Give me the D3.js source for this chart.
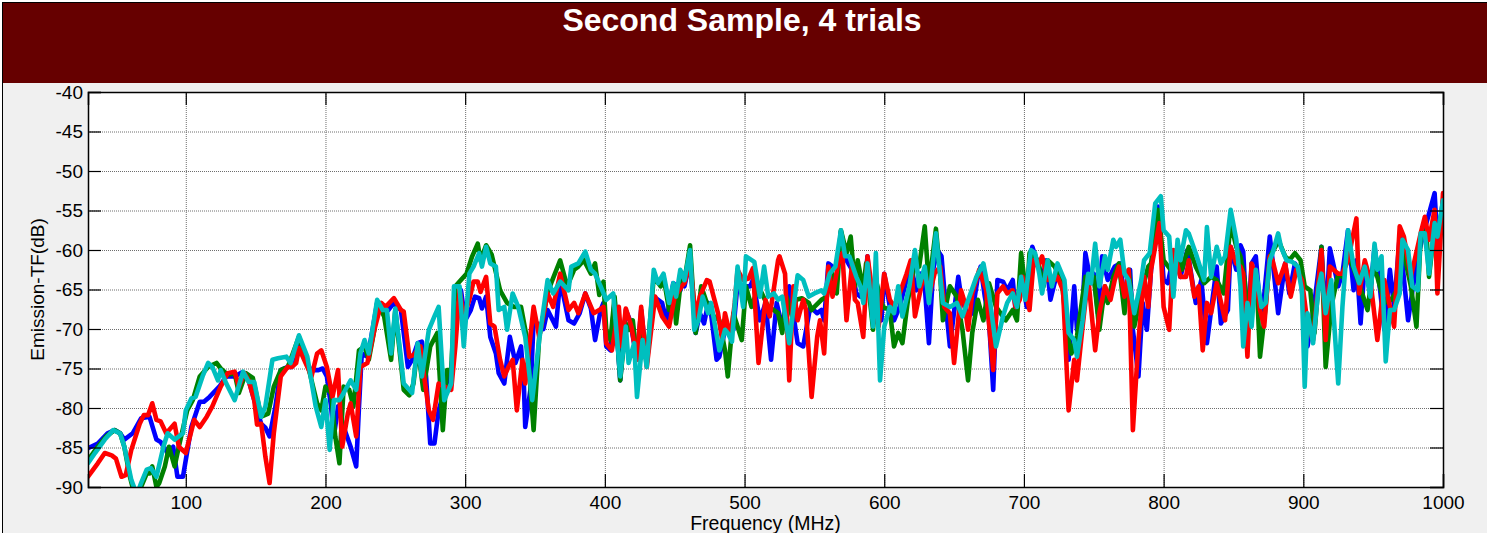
<!DOCTYPE html>
<html lang="en">
<head>
<meta charset="UTF-8">
<title>Second Sample, 4 trials</title>
<script src="https://cdn.jsdelivr.net/npm/d3@7"></script>
<style>
    body { margin: 0; background: #ffffff; }
    text { font-family: Arial, "Liberation Sans", sans-serif; }
</style>
</head>
<body>
<div id="chart"></div>
<script>
// ---- data: [frequency MHz, emission dB] ----
var trial1 = [[30,-85.1],[37,-84.5],[44,-83.2],[49,-82.8],[53,-83.2],[56,-84],[62,-83.2],[68,-81.3],[74,-81.1],[79,-84],[82,-84.3],[87,-85.7],[91,-84.9],[94,-88.7],[98,-88.7],[104,-82.4],[110,-79.2],[113,-79.2],[117,-78.6],[124,-77.3],[129,-76],[135,-76],[140,-75.5],[145,-76.5],[149,-79],[154,-82],[157,-82.5],[160,-83.6],[164,-80],[168,-75.2],[173,-74.8],[176,-74.8],[179,-73.9],[181,-72.2],[187,-74.6],[190,-75.2],[195,-75.2],
  [198,-75],[201,-76],[204,-79.8],[206,-83.6],[209,-79.8],[213,-82.4],[218,-84.9],[222,-87.4],[224,-79.8],[226,-73.1],[230,-73.5],[232,-71.8],[237,-66.7],[242,-68],[245,-67.6],[249,-66.7],[254,-67.6],[259,-74.8],[262,-73.9],[266,-71.8],[269,-71.6],[272,-76],[275,-84.5],[278,-84.5],[281,-80.3],[286,-77.3],[290,-75.2],[294,-68.9],[297,-65.1],[300,-68.9],[304,-67.6],[307,-65.9],[310,-66.1],[312,-67.4],[315,-65.9],[318,-71],[322,-73.1],[324,-75.6],[328,-76.9],[330,-73.9],[332,-71],[336,-74.3],[340,-72.2],[342,-76.9],[343,-82.4],[347,-77.3],[349,-68.9],[356,-70],[359,-67.6],
  [365,-69.7],[368,-63.8],[374,-68.9],[378,-69.3],[382,-68],[386,-65.5],[390,-67.4],[393,-71.4],[397,-67.6],[399,-66.7],[401,-72.2],[404,-72.7],[407,-66.3],[411,-76.5],[415,-67.6],[418,-68.9],[423,-73.9],[426,-67.6],[430,-74.3],[435,-65.9],[441,-66.7],[444,-68.9],[449,-64.2],[454,-65.1],[456,-63],[457,-64.6],[461,-61.3],[465,-70.5],[468,-68],[471,-69.3],[474,-66.7],[476,-68],[480,-73.9],[482,-73.5],[486,-70.1],[490,-70.5],[492,-70.1],[495,-64.2],[499,-64.6],[504,-64.6],[506,-63.8],[511,-68.9],[515,-66.7],[519,-73.9],[523,-66.7],
  [527,-69.7],[532,-64.6],[538,-71.8],[542,-72.2],[547,-67.2],[552,-68],[555,-67.6],[557,-68.9],[560,-61.7],[563,-62.1],[566,-62.5],[569,-57.7],[573,-61.3],[577,-62.5],[580,-65.5],[583,-65.9],[586,-64.6],[588,-60.8],[592,-69.3],[594,-63.8],[598,-68.9],[600,-63],[604,-67.2],[607,-68.9],[611,-67.2],[616,-63.8],[619,-62.1],[623,-65.1],[626,-63],[629,-64.6],[632,-71.8],[635,-62.5],[638,-60],[641,-60.8],[643,-65.1],[647,-72.2],[653,-63.4],[655,-65.9],[660,-68.4],[663,-68],[667,-63.4],[669,-62.1],[672,-65.9],[675,-68.9],[678,-77.7],[681,-63.8],[685,-64],[688,-65.1],
  [692,-63.8],[694,-67.6],[697,-65.1],[699,-63.8],[702,-67.2],[704,-62.5],[706,-59.6],[710,-61.7],[713,-63.8],[716,-61.3],[719,-66.3],[723,-63.4],[727,-63.8],[729,-65.5],[732,-73.9],[736,-64.6],[738,-70.1],[741,-70.5],[744,-60.4],[748,-64.2],[750,-63],[753,-68],[756,-60.8],[760,-63.8],[765,-62.1],[769,-61.7],[772,-66.3],[776,-62.5],[778,-70.1],[782,-76],[785,-66.7],[788,-70.1],[791,-62.5],[796,-54.5],[800,-63.8],[803,-64.2],[806,-61.7],[810,-61.3],[812,-63.4],[817,-60],[823,-66.7],[827,-63.8],[831,-71.8],[838,-62.1],[841,-69.3],[846,-67.6],[848,-59.6],[852,-62.5],
  [855,-59.4],[857,-60.2],[860,-70.5],[863,-61.7],[866,-60.8],[869,-67.2],[871,-67.6],[876,-58.3],[878,-61.3],[882,-68],[887,-61.7],[890,-65.5],[894,-61.7],[898,-63.4],[903,-72.2],[907,-68],[913,-59.6],[916,-69.3],[919,-59.8],[925,-64.6],[928,-63],[932,-57.5],[936,-65.1],[938,-61.3],[941,-69.3],[944,-61.7],[948,-65.5],[951,-59.6],[955,-65.1],[958,-70.1],[962,-62.5],[965,-67.2],[969,-58.3],[975,-68.9],[981,-61.7],[986,-57.9],[990,-55.4],[994,-52.8],[996,-59.2],[1000,-53.7]];

var trial2 = [[30,-86.6],[37,-84.9],[43,-83.6],[49,-82.8],[53,-83.2],[56,-84.9],[60,-88.7],[63,-90.8],[68,-90],[72,-88.3],[74,-88.3],[76,-87.4],[79,-90],[81,-89.5],[85,-87.4],[88,-84.9],[92,-87.4],[95,-84.9],[101,-80.3],[105,-79],[110,-76],[116,-74.8],[122,-74.3],[125,-75],[130,-75.8],[135,-75.6],[138,-78.1],[143,-75.6],[148,-76.2],[154,-81.1],[159,-80.7],[163,-77.3],[168,-75.2],[173,-74.8],[175,-73.9],[181,-71],[187,-74.3],[194,-79.4],
  [197,-80.3],[200,-77.3],[204,-78.1],[207,-83.6],[210,-87],[213,-77.3],[217,-77.7],[220,-79.8],[224,-72.7],[228,-72.2],[231,-73.9],[235,-70.1],[237,-66.7],[242,-68.4],[247,-73.9],[250,-67.6],[256,-77.7],[260,-78.4],[263,-76.9],[266,-72.2],[270,-77.7],[275,-72.2],[280,-70.5],[284,-82.8],[287,-75.2],[290,-75.2],[293,-64.6],[296,-64],[301,-63],[305,-60.8],[309,-59.2],[311,-61.3],[315,-59.4],[319,-60.6],[325,-65.1],[330,-66.7],[335,-67.2],[340,-67.2],[344,-71],[349,-82.8],[353,-71],[359,-65.5],
  [362,-64],[368,-61.3],[373,-64.6],[378,-62.5],[381,-62.1],[385,-61.3],[390,-63],[393,-61.7],[396,-65.7],[399,-64],[401,-70.1],[404,-71.4],[407,-65.9],[411,-76.5],[415,-69.3],[417,-70.1],[420,-68.9],[423,-73.9],[426,-69.3],[430,-73.9],[435,-63.4],[440,-64.6],[442,-63.4],[446,-67.6],[449,-64.6],[451,-69.3],[455,-63],[457,-63.8],[461,-59.4],[465,-70.5],[469,-64.6],[473,-66.7],[478,-68.4],[482,-68.9],[486,-72.7],[488,-76],[492,-68],[498,-71.4],[501,-64.6],[505,-67.2],[510,-64.6],[517,-67.2],[521,-67.6],
  [524,-68],[527,-70.5],[530,-65.9],[534,-68.4],[537,-66.3],[541,-66.1],[546,-66.7],[548,-67.6],[550,-67.2],[555,-66.3],[559,-65.9],[562,-62.5],[566,-65.5],[569,-57.5],[573,-60.4],[576,-58.3],[579,-64.6],[581,-61.3],[585,-65.1],[587,-61.7],[592,-70.1],[594,-63.8],[599,-67.2],[604,-67.6],[607,-72.2],[610,-70.5],[613,-71.8],[617,-66.3],[621,-62.5],[625,-62.1],[629,-57],[632,-64.6],[637,-57.3],[640,-63],[642,-68.9],[647,-64.6],[652,-65.9],[656,-70.1],[660,-76.5],[663,-70.5],[667,-66.3],[671,-68.9],[675,-64.2],[680,-67.2],[687,-68.9],
  [692,-67.6],[695,-68.9],[698,-60.4],[702,-66.3],[704,-60.4],[710,-61.3],[714,-64.6],[717,-61.3],[722,-62.1],[727,-63.8],[731,-70.5],[734,-73.1],[738,-70.9],[744,-63.4],[747,-63.8],[750,-63.4],[754,-70.1],[758,-64.6],[760,-66.7],[764,-63.4],[768,-61.7],[772,-68],[775,-62.5],[779,-69.7],[784,-65.5],[789,-62.1],[791,-61.7],[796,-54.9],[800,-61.3],[805,-62.5],[810,-60.4],[813,-62.5],[818,-59.6],[823,-62.1],[829,-64.2],[834,-63.4],[838,-63.8],[843,-65.5],[848,-56.6],[852,-59.6],
  [855,-60.8],[858,-63.8],[861,-69.7],[864,-63.8],[867,-65.5],[869,-73.5],[873,-67.2],[876,-60.8],[880,-59.6],[882,-58.7],[887,-60.8],[890,-61.3],[894,-60.4],[898,-61.3],[901,-64.6],[905,-65.1],[908,-70.5],[913,-59.6],[916,-74.8],[920,-67.2],[925,-63],[928,-63.4],[932,-60.4],[939,-63.8],[946,-67.6],[950,-62.1],[953,-63.4],[958,-66.7],[963,-66.3],[967,-65.1],[971,-59.6],[977,-64.6],[981,-69.7],[984,-58.3],[988,-57.5],[990,-63.4],[994,-57],[996,-58.3],[1000,-54.5]];

var trial3 = [[30,-88.7],[37,-87],[42,-85.7],[47,-86],[50,-86.4],[54,-88.7],[57,-88.5],[61,-85.3],[67,-82],[70,-80.9],[73,-80.9],[76,-79.4],[79,-81.5],[82,-81.7],[86,-83.2],[92,-82],[95,-84.9],[100,-85.7],[106,-81.5],[110,-82.4],[115,-81.1],[119,-79.8],[125,-77.3],[130,-75.6],[135,-75.4],[138,-77.3],[142,-75.6],[145,-76.5],[149,-79],[151,-82.1],[154,-82],[157,-86.2],[160,-89.5],[163,-83.2],[168,-76],[173,-74.8],[176,-74.8],[179,-74.3],[181,-72.4],[187,-74.8],[190,-76],[194,-73.1],
  [197,-72.7],[201,-74.8],[205,-78.6],[209,-75.2],[212,-84.9],[216,-80.7],[218,-79.4],[222,-83.6],[225,-74.8],[230,-74.3],[235,-70.1],[240,-66.7],[243,-67.2],[249,-66.1],[254,-67.6],[256,-67.8],[260,-73.5],[263,-73.3],[268,-72.2],[270,-75.2],[274,-80.3],[277,-81.5],[281,-76.9],[290,-77.7],[293,-72.2],[296,-65.1],[299,-68.4],[303,-66.3],[306,-64],[309,-64],[311,-65.3],[315,-63.4],[318,-69.3],[321,-69.7],[325,-73.9],[328,-76],[331,-74.8],[334,-73.9],[337,-80.3],[341,-73.9],[343,-76.9],[349,-67.2],[353,-71],[359,-65.5],
  [363,-67.2],[368,-63],[374,-67.6],[378,-66.7],[381,-68],[386,-65.5],[392,-68],[396,-67.6],[399,-67.2],[401,-71.8],[405,-72.7],[410,-67.2],[412,-72.2],[415,-67.4],[419,-69.7],[423,-73.9],[426,-67.2],[430,-74.8],[436,-65.9],[441,-68.4],[446,-69.7],[450,-65.9],[455,-64.6],[457,-64.2],[461,-61.7],[465,-68.4],[468,-65.9],[473,-63.8],[475,-64],[481,-68],[484,-71.4],[486,-68],[490,-71],[493,-66.7],[495,-62.5],[499,-63.8],[503,-63.6],[506,-62.3],[510,-74.3],[515,-66.3],[518,-68.4],[524,-61.3],
  [525,-60.8],[529,-63],[532,-76.5],[535,-64.6],[538,-68.9],[542,-66.3],[544,-67.6],[548,-78.6],[552,-71],[554,-68.9],[557,-73.1],[560,-62.1],[563,-65.9],[567,-61.7],[570,-60.4],[573,-68.9],[577,-61.7],[579,-66.3],[581,-66.7],[585,-71],[588,-60.8],[592,-65.9],[596,-69.7],[600,-63],[604,-66.3],[607,-67.2],[611,-65.5],[616,-63],[619,-61.3],[622,-68.4],[625,-65.9],[629,-62.5],[632,-65.9],[636,-63],[640,-62.1],[643,-67.2],[647,-68],[650,-74.3],[655,-65.1],[657,-66.3],[660,-70.1],[663,-65.5],[668,-62.5],[673,-65.1],[675,-69.3],[678,-75.2],[681,-65.5],[685,-64.6],[688,-65.5],
  [692,-65.1],[694,-67.2],[697,-66.3],[699,-63.4],[704,-67.6],[707,-61.3],[710,-62.1],[713,-60.8],[717,-63.8],[722,-63.8],[724,-63.4],[728,-65.1],[732,-80.3],[736,-73.9],[738,-76.5],[742,-69.7],[746,-63.4],[748,-67.2],[751,-72.7],[754,-68],[758,-64.6],[762,-66.3],[765,-63.8],[768,-62.1],[772,-65.9],[775,-62.5],[778,-82.8],[782,-71.4],[786,-63.4],[789,-67.2],[791,-62.5],[797,-56.6],[800,-67.2],[804,-70.1],[807,-60],[812,-63.4],[816,-63.4],[818,-61.3],[822,-65.9],[825,-64.6],[828,-72.7],[831,-66.7],[834,-68],[838,-64.2],[844,-68.9],[848,-59.6],[852,-61.7],
  [855,-62.1],[857,-63],[860,-73.5],[863,-61.7],[866,-63.4],[869,-67.6],[872,-69.7],[876,-60.8],[878,-61.3],[882,-64.2],[887,-61.7],[891,-65.9],[895,-62.5],[899,-63.8],[903,-69.3],[907,-71.4],[913,-60],[916,-71.4],[919,-62.1],[925,-63],[928,-63],[932,-61.3],[938,-56],[940,-65.5],[944,-61.3],[948,-63.8],[953,-71.4],[958,-63.8],[965,-69.7],[969,-57],[972,-58.3],[977,-63.4],[984,-57.9],[987,-55.8],[990,-58.7],[994,-54.9],[996,-65.5],[1000,-52.8]];

var trial4 = [[30,-87],[35,-85.7],[42,-84],[48,-82.8],[53,-83.2],[56,-84.9],[61,-89.1],[65,-91],[68,-89.5],[72,-87.8],[75,-87.6],[79,-88.7],[84,-84.9],[87,-83.2],[92,-84],[98,-83.2],[100,-80.3],[104,-78.8],[107,-78.6],[112,-76],[116,-74.3],[119,-74.8],[123,-76.5],[125,-75.2],[129,-76.9],[135,-79],[141,-75.4],[145,-76.7],[149,-76.7],[154,-81.1],[157,-79.8],[162,-73.9],[166,-73.7],[172,-73.5],[175,-74.3],[181,-70.8],[187,-73.5],[193,-79.8],
  [197,-82.4],[200,-79],[203,-85.3],[206,-79],[210,-79],[213,-78.1],[218,-76.5],[222,-77.7],[225,-73.1],[228,-71.4],[231,-73.1],[237,-66.3],[241,-67.6],[244,-67.6],[247,-73.1],[250,-67.4],[256,-76.9],[260,-77.7],[262,-78.1],[266,-71.8],[269,-76],[274,-70.1],[278,-68.4],[281,-67.2],[285,-79],[290,-76.9],[292,-64.6],[296,-64.6],[299,-72.2],[303,-63],[306,-62.1],[310,-60.4],[312,-62.1],[315,-59.6],[318,-61.7],[322,-62.1],[324,-67.6],[328,-67.2],[330,-70.1],[334,-65.5],[338,-67.2],[343,-71],[348,-79],[353,-71.4],[359,-63.8],
  [363,-65.5],[368,-64],[374,-65.1],[376,-62.1],[381,-61.7],[386,-60.2],[390,-62.5],[393,-63],[397,-64.6],[401,-66.3],[406,-65.5],[411,-76],[415,-69.7],[417,-74.3],[421,-71.8],[423,-78.6],[427,-71.4],[430,-74.8],[435,-62.5],[438,-64.2],[442,-63],[446,-66.7],[449,-64.2],[451,-65.9],[454,-62.5],[457,-63.8],[461,-60],[464,-70.1],[467,-68.9],[470,-65.9],[474,-68],[476,-66.7],[482,-72.7],[486,-70.1],[488,-70.5],[491,-71.6],[495,-62.1],[499,-67.2],[501,-60.8],[507,-61.5],[511,-65.9],[514,-62.1],[517,-65.9],[521,-65.5],
  [524,-66.3],[527,-65.9],[532,-71.8],[536,-65.9],[538,-63.2],[542,-63.8],[546,-65.9],[550,-65.5],[555,-65.1],[557,-65.5],[561,-63],[565,-62.1],[569,-57.5],[572,-60.8],[575,-60.8],[580,-63.4],[583,-64.6],[585,-66.7],[588,-61.7],[592,-69.7],[594,-60.4],[597,-76.5],[600,-69.7],[604,-67.2],[607,-68],[610,-64.6],[613,-68.4],[618,-64.6],[622,-60],[625,-64.6],[629,-62.1],[632,-66.7],[637,-57.9],[642,-66.7],[647,-67.2],[652,-66.7],[656,-68.4],[661,-65.9],[666,-63.4],[671,-61.7],[675,-65.5],[680,-72.2],[685,-68.4],[688,-66.7],
  [692,-65.5],[695,-67.2],[698,-63.4],[701,-66.3],[705,-60],[708,-60.4],[711,-63],[713,-65.5],[717,-61.3],[720,-64.6],[724,-61.7],[729,-63.8],[732,-70.5],[736,-71.4],[738,-73.5],[742,-68.9],[746,-63],[748,-64.2],[751,-59.2],[754,-64.6],[758,-60.8],[760,-62.5],[764,-58.7],[766,-59.6],[769,-58.7],[772,-63],[775,-63.8],[779,-68],[784,-63.8],[786,-61.3],[790,-60.4],[794,-54.1],[798,-53.2],[800,-57.5],[804,-58.3],[807,-65.9],[810,-58.7],[812,-61.3],[816,-57.5],[818,-57.9],[823,-60.4],[829,-63.8],[831,-57.1],[834,-63.4],[838,-59.6],[841,-61.7],[844,-60.8],[848,-54.9],[852,-58.7],
  [855,-64.6],[857,-72.2],[860,-66.7],[863,-69.7],[866,-62.5],[870,-67.2],[873,-66.7],[876,-61.3],[878,-60.4],[882,-57.9],[884,-59.6],[888,-61.3],[892,-61.5],[896,-62.1],[899,-65.1],[901,-77.3],[903,-68],[907,-71.8],[911,-64.6],[913,-63],[916,-68],[920,-63.8],[925,-76.9],[928,-67.2],[932,-57.5],[936,-62.1],[940,-64.2],[944,-62.1],[948,-65.9],[951,-59.2],[953,-62.5],[956,-60.8],[959,-74.1],[962,-67.6],[965,-67.6],[969,-65.5],[971,-58.7],[975,-60],[978,-64.6],[982,-65.1],[984,-57.9],[987,-57.9],[990,-63],[994,-56.6],[996,-58.3],[1000,-53.7]];

// plotted in this order, last one on top
var trials = [trial1, trial2, trial3, trial4];
var trialColors = ["#0000ff", "#008000", "#ff0000", "#00bfbf"];

var xTicks = [100, 200, 300, 400, 500, 600, 700, 800, 900, 1000];
var yTicks = [-90, -85, -80, -75, -70, -65, -60, -55, -50, -45, -40];

// ---- layout ----
var width = 1487,
    height = 533;
var plot = {left: 88, top: 92, right: 1443, bottom: 487};

var svg = d3.select("#chart").append("svg")
    .attr("width", width)
    .attr("height", height);

// figure background + frame
svg.append("rect")
    .attr("x", 2.5).attr("y", 2.5)
    .attr("width", width).attr("height", height)
    .attr("fill", "#f0f0f0")
    .attr("stroke", "#000")
    .attr("stroke-width", 1);

// title banner
svg.append("rect")
    .attr("x", 3).attr("y", 3)
    .attr("width", width - 3).attr("height", 80)
    .attr("fill", "#660000");

svg.append("text")
    .attr("x", 742).attr("y", 31)
    .attr("text-anchor", "middle")
    .attr("fill", "#fff")
    .style("font-size", "32px")
    .style("font-weight", "bold")
    .text("Second Sample, 4 trials");

// scales
var x = d3.scaleLinear().domain([30, 1000]).range([plot.left, plot.right]);
var y = d3.scaleLinear().domain([-90, -40]).range([plot.bottom, plot.top]);
var pw = plot.right - plot.left,
    ph = plot.bottom - plot.top;

// plain labels, ascii hyphen for the minus, no thousands comma
var plainNum = function(d) { return String(d); };

svg.append("rect")
    .attr("x", plot.left).attr("y", plot.top)
    .attr("width", pw).attr("height", ph)
    .attr("fill", "#fff");

// grid
svg.append("g")
    .attr("class", "grid")
    .attr("transform", "translate(0," + plot.bottom + ")")
    .call(d3.axisBottom(x).tickValues(xTicks).tickSize(-ph).tickFormat(""));
svg.append("g")
    .attr("class", "grid")
    .attr("transform", "translate(" + plot.left + ",0)")
    .call(d3.axisLeft(y).tickValues(yTicks).tickSize(-pw).tickFormat(""));
svg.selectAll(".grid .domain").remove();
svg.selectAll(".grid line")
    .attr("stroke", "#6e6e6e")
    .attr("stroke-width", 1)
    .attr("stroke-dasharray", "1,1");

// lines, clipped to the axes box
svg.append("clipPath").attr("id", "clip")
    .append("rect")
    .attr("x", plot.left).attr("y", plot.top)
    .attr("width", pw).attr("height", ph);

var line = d3.line()
    .x(function(d) { return x(d[0]); })
    .y(function(d) { return y(d[1]); });

svg.append("g")
    .attr("clip-path", "url(#clip)")
    .selectAll("path")
    .data(trials)
    .enter()
    .append("path")
    .attr("d", line)
    .attr("fill", "none")
    .attr("stroke", function(d, i) { return trialColors[i]; })
    .attr("stroke-width", 4.6)
    .attr("stroke-linejoin", "round")
    .attr("stroke-linecap", "round");

// axes with inward ticks on all four sides
var tickLen = 13;
var axBottom = svg.append("g")
    .attr("transform", "translate(0," + plot.bottom + ")")
    .call(d3.axisBottom(x).tickValues(xTicks).tickSize(-tickLen).tickPadding(9).tickFormat(plainNum));
var axTop = svg.append("g")
    .attr("transform", "translate(0," + plot.top + ")")
    .call(d3.axisTop(x).tickValues(xTicks).tickSize(-tickLen).tickFormat(""));
var axLeft = svg.append("g")
    .attr("transform", "translate(" + plot.left + ",0)")
    .call(d3.axisLeft(y).tickValues(yTicks).tickSize(-tickLen).tickPadding(5).tickFormat(plainNum));
var axRight = svg.append("g")
    .attr("transform", "translate(" + plot.right + ",0)")
    .call(d3.axisRight(y).tickValues(yTicks).tickSize(-tickLen).tickFormat(""));

[axBottom, axTop, axLeft, axRight].forEach(function(a) {
    a.selectAll(".domain").attr("stroke", "#000").attr("stroke-width", 1.5);
    a.selectAll(".tick line").attr("stroke", "#000").attr("stroke-width", 1.2);
    a.selectAll("text")
        .attr("fill", "#000")
        .style("font-size", "19px")
        .style("font-family", "Arial, 'Liberation Sans', sans-serif");
});

// axis labels
svg.append("text")
    .attr("x", (plot.left + plot.right) / 2)
    .attr("y", 530)
    .attr("text-anchor", "middle")
    .style("font-size", "19.5px")
    .text("Frequency (MHz)");

svg.append("text")
    .attr("transform", "translate(44," + (plot.top + plot.bottom) / 2 + ") rotate(-90)")
    .attr("text-anchor", "middle")
    .style("font-size", "19px")
    .text("Emission-TF(dB)");
</script>
</body>
</html>
